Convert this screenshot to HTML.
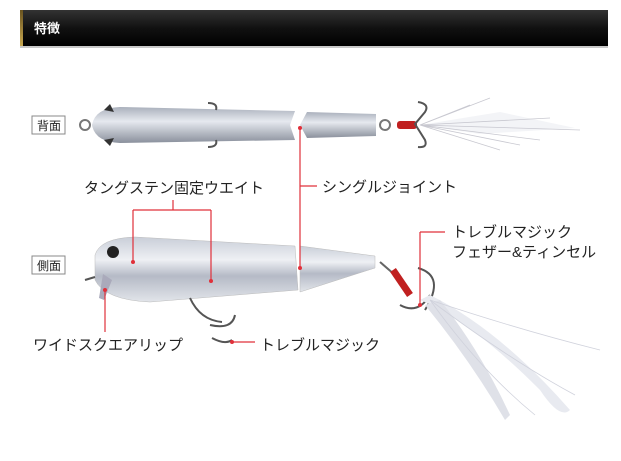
<!DOCTYPE html>
<html><head><meta charset="utf-8"><style>
html,body{margin:0;padding:0;background:#fff;}
svg{display:block;}
text{font-family:"Liberation Sans","Noto Sans CJK JP",sans-serif;}
</style></head><body>
<svg width="621" height="461" viewBox="0 0 621 461" xmlns="http://www.w3.org/2000/svg">
<defs>
<linearGradient id="hd" x1="0" y1="0" x2="0" y2="1"><stop offset="0" stop-color="#333"/><stop offset="0.5" stop-color="#111"/><stop offset="1" stop-color="#000"/></linearGradient>
<linearGradient id="gold" x1="0" y1="0" x2="0" y2="1"><stop offset="0" stop-color="#6a5420"/><stop offset="1" stop-color="#c8a850"/></linearGradient>
<linearGradient id="top" x1="0" y1="0" x2="0" y2="1"><stop offset="0" stop-color="#aab0bc"/><stop offset="0.4" stop-color="#e6e9ef"/><stop offset="1" stop-color="#8a909c"/></linearGradient>
<linearGradient id="side" x1="0" y1="0" x2="0" y2="1"><stop offset="0" stop-color="#c9ced8"/><stop offset="0.35" stop-color="#eef0f4"/><stop offset="0.6" stop-color="#b5bac6"/><stop offset="1" stop-color="#e2e5ea"/></linearGradient>
</defs>
<rect x="20" y="10" width="588" height="36" fill="url(#hd)"/>
<rect x="20" y="10" width="3" height="36" fill="url(#gold)"/>
<rect x="20" y="46" width="588" height="2" fill="#c8c8c8"/>
<text x="34" y="33" font-size="13" font-weight="bold" fill="#fff">特徴</text>

<!-- top lure -->
<rect x="32" y="116" width="33" height="18" fill="#fff" stroke="#888"/>
<text x="37" y="130" font-size="12" fill="#222">背面</text>
<circle cx="85" cy="125" r="5" fill="none" stroke="#777" stroke-width="2"/>
<path d="M92 125 Q95 108 120 107 L295 111 L290 125 L295 140 L120 143 Q95 142 92 125Z" fill="url(#top)"/>
<path d="M104 110 L110 104 L114 112Z M104 140 L110 146 L114 138Z" fill="#333"/>
<path d="M300 125 L307 112 L376 114 L376 136 L307 138Z" fill="url(#top)"/>
<circle cx="385" cy="125" r="5" fill="none" stroke="#777" stroke-width="2"/>
<rect x="397" y="121" width="20" height="8" rx="3" fill="#c02020"/>
<path d="M418 102 Q430 104 425 112 L415 124 L425 140 Q428 148 418 147" fill="none" stroke="#555" stroke-width="2"/>
<path d="M420 125 L500 112 L575 128 L480 134 Z" fill="#eef0f4" opacity="0.7"/>
<g stroke="#c8c8d0" stroke-width="0.8" fill="none">
<path d="M420 125 L490 98 M420 125 L550 118 M420 125 L520 145 M420 125 L580 130 M420 125 L470 105 M420 125 L540 140 M420 125 L500 150"/>
</g>
<path d="M208 103 Q218 103 216 110 M208 147 Q218 147 216 140" fill="none" stroke="#555" stroke-width="2"/>

<!-- side lure -->
<rect x="32" y="256" width="33" height="18" fill="#fff" stroke="#888"/>
<text x="37" y="270" font-size="12" fill="#222">側面</text>
<path d="M95 255 Q100 238 135 237 L295 246 L298 290 L150 302 Q105 300 95 280Z" fill="url(#side)" stroke="#bbb" stroke-width="0.5"/>
<path d="M300 246 L375 256 L375 268 L300 292Z" fill="url(#side)" stroke="#bbb" stroke-width="0.5"/>
<circle cx="113" cy="252" r="6" fill="#222"/>
<path d="M103 274 L112 280 L104 300 L99 298Z" fill="#aab"/>
<path d="M85 280 L95 277" stroke="#555" stroke-width="2"/>
<path d="M380 262 L395 275" stroke="#666" stroke-width="2"/>
<path d="M393 270 L410 295" stroke="#c02020" stroke-width="7"/>
<path d="M418 268 Q446 276 425 310 M400 305 Q418 315 430 295" fill="none" stroke="#555" stroke-width="2"/>
<path d="M420 300 Q470 320 540 390 Q560 420 570 410 Q500 330 430 295Z" fill="#e8eaf0"/>
<path d="M425 305 Q470 360 505 420 L510 415 Q480 350 440 300Z" fill="#dfe1e8"/>
<g stroke="#d0d2dc" stroke-width="0.8" fill="none">
<path d="M430 300 Q520 330 600 350 M430 300 Q510 360 575 395 M430 300 Q480 370 535 415"/>
</g>
<path d="M190 298 Q200 320 222 322 M210 325 Q232 330 235 315 M212 338 Q225 345 232 340" fill="none" stroke="#555" stroke-width="2"/>

<!-- red callouts -->
<g stroke="#e0303a" stroke-width="1.2" fill="none">
<path d="M300 128 V268 M300 186 H317"/>
<path d="M173 200 V210 M133 210 H211 M133 210 V262 M211 210 V281"/>
<path d="M420 232 H445 M420 232 V305"/>
<path d="M105 290 V332"/>
<path d="M232 342 H255"/>
</g>
<g fill="#e0303a"><circle cx="300" cy="128" r="2"/><circle cx="300" cy="268" r="2"/><circle cx="133" cy="262" r="2"/><circle cx="211" cy="281" r="2"/><circle cx="420" cy="305" r="2"/><circle cx="105" cy="290" r="2"/><circle cx="232" cy="342" r="2"/></g>

<g font-size="15" fill="#222">
<text x="84" y="193">タングステン固定ウエイト</text>
<text x="322" y="192">シングルジョイント</text>
<text x="452" y="237">トレブルマジック</text>
<text x="452" y="257">フェザー&amp;ティンセル</text>
<text x="33" y="350">ワイドスクエアリップ</text>
<text x="260" y="350">トレブルマジック</text>
</g>
</svg>
</body></html>
